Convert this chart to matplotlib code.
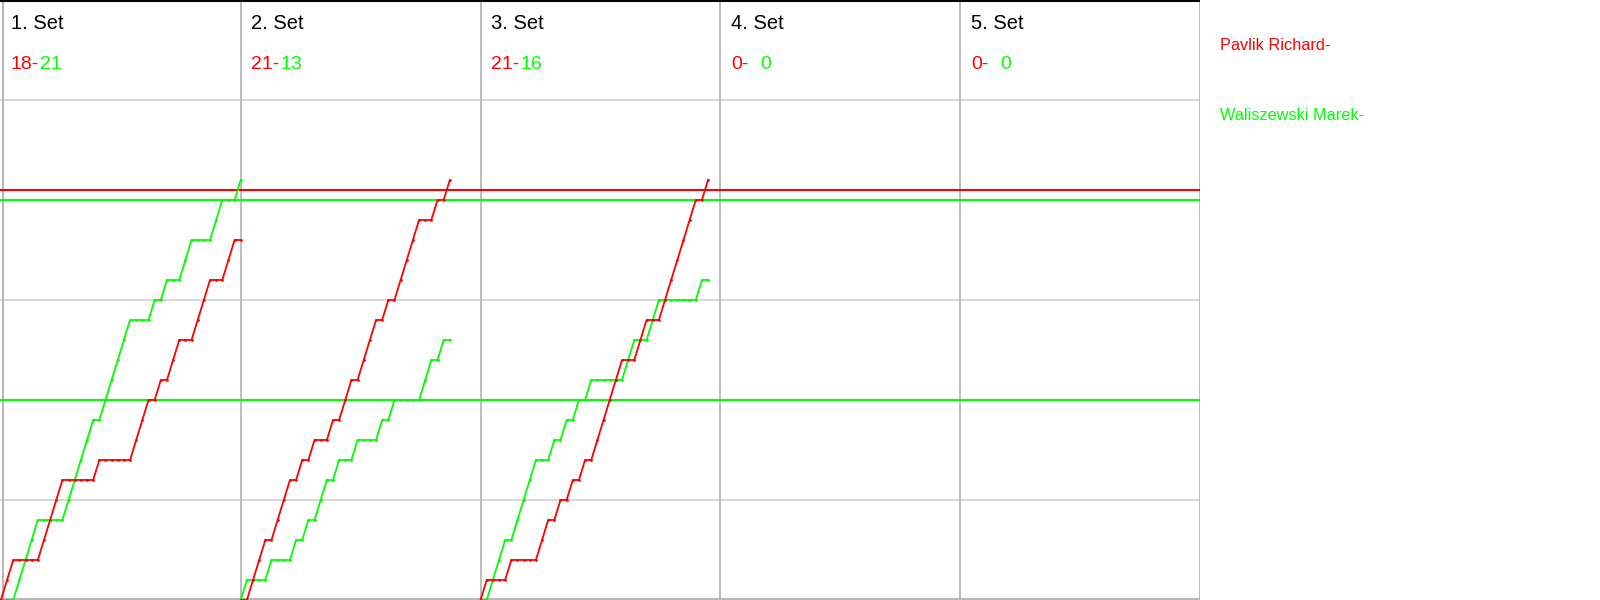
import numpy as np
import matplotlib
matplotlib.use("Agg")
import matplotlib.pyplot as plt

plt.rcParams['font.family'] = ['Liberation Sans', 'DejaVu Sans']

# ---- data -------------------------------------------------------------
set_labels = ["1. Set", "2. Set", "3. Set", "4. Set", "5. Set"]
player_red = "Pavlik Richard-"
player_green = "Waliszewski Marek-"

# rally winners per set (R = red player, G = green player)
set1_rallies = list("RRGGGGRRRRGGGGGRGGGGGRRRGRGRRGGRRRGGRRG")
set2_rallies = list("GRRRGRRRGRGRGGRGRRGRRRGRGRRRRGGRGR")
set3_rallies = list("RGGGRGGGGRRGRGRGRGRRRRRGGRRGGRRRRRRGR")
set4_rallies = []
set5_rallies = []
all_sets = [set1_rallies, set2_rallies, set3_rallies, set4_rallies, set5_rallies]

final_red = [18, 21, 21, 0, 0]
final_green = [21, 13, 16, 0, 0]

grid_scores = [5, 10, 15, 20, 25]
red_marks = [20.5]
green_marks = [20, 10]

RED = "#ff0000"
GREEN = "#00ff00"

# ---- layout -----------------------------------------------------------
W, H = 1600, 600
panel_len = 39          # rallies per panel width
n_panels = 5
fig = plt.figure(figsize=(W / 100, H / 100), dpi=100)
ax = fig.add_axes([0, 0, 1200 / W, 1])
ax.set_xlim(-0.15, panel_len * n_panels)
ax.set_ylim(0, 30)
ax.axis('off')

# grid
for g in grid_scores:
    ax.axhline(g, color="#d4d4d4", lw=1.3, zorder=1)
for k in range(1, n_panels + 1):
    ax.axvline(k * panel_len, color="#b8b8b8", lw=1.3, zorder=1)
ax.axvline(0.3, color="#b8b8b8", lw=1.5, zorder=1)
ax.axhline(0.05, color="#b8b8b8", lw=1.5, zorder=1)
ax.axhline(29.98, color="black", lw=2.2, zorder=5)

# target lines
for m in red_marks:
    ax.axhline(m, color=RED, lw=1.5, zorder=2)
for m in green_marks:
    ax.axhline(m, color=GREEN, lw=1.5, zorder=2)

# progression lines
for i, rallies in enumerate(all_sets):
    if not rallies:
        continue
    off = i * panel_len
    r = np.concatenate([[0], np.cumsum([1 if w == "R" else 0 for w in rallies])])
    g = np.concatenate([[0], np.cumsum([1 if w == "G" else 0 for w in rallies])])
    x = off + np.arange(len(rallies) + 1)
    ax.plot(x, g, color=GREEN, lw=1.3, marker='o', ms=2.0, mew=0, zorder=3)
    ax.plot(x, r, color=RED, lw=1.3, marker='o', ms=2.0, mew=0, zorder=4)

# texts (pixel positions converted to figure fraction)
def ftext(px, py, s, **kw):
    fig.text(px / W, 1 - py / H, s, va='baseline', ha='left', **kw)

for i in range(n_panels):
    px = i * 240
    ftext(px + 11, 29, set_labels[i], fontsize=14.5, color="black")
    ftext(px + 11, 69, f"{final_red[i]}-", fontsize=14, color=RED)
    ftext(px + 40, 69, f"{final_green[i]}", fontsize=14, color=GREEN)

ftext(1220, 50, player_red, fontsize=11.7, color=RED)
ftext(1220, 120, player_green, fontsize=11.7, color=GREEN)

fig.savefig("out.png", dpi=100)
